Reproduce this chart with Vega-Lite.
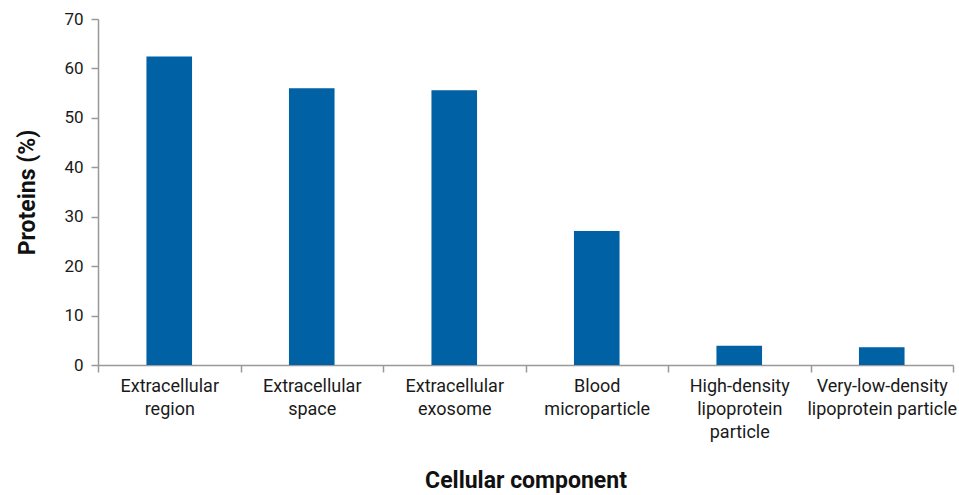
{
  "$schema": "https://vega.github.io/schema/vega-lite/v6.json",
  "autosize": "none",
  "width": 855,
  "height": 346,
  "padding": {"left": 98, "top": 19, "right": 6, "bottom": 130},
  "background": "white",
  "config": {"view": {"stroke": null}, "font": "Roboto"},
  "data": {
    "values": [
      {"component": "Extracellular region", "proteins": 62.4},
      {"component": "Extracellular space", "proteins": 56.0},
      {"component": "Extracellular exosome", "proteins": 55.6},
      {"component": "Blood microparticle", "proteins": 27.1},
      {"component": "High-density lipoprotein particle", "proteins": 3.9},
      {"component": "Very-low-density lipoprotein particle", "proteins": 3.6}
    ]
  },
  "mark": {"type": "bar", "color": "#0061a5", "width": {"band": 0.32}},
  "encoding": {
    "x": {
      "field": "component",
      "type": "nominal",
      "sort": null,
      "scale": {"paddingInner": 0, "paddingOuter": 0},
      "axis": {
        "title": "Cellular component",
        "titleFont": "Roboto",
        "titleFontSize": 23,
        "titleFontWeight": "bold",
        "titleColor": "#111",
        "titlePadding": 28,
        "labelAngle": 0,
        "labelFont": "Roboto",
        "labelFontSize": 18,
        "labelColor": "#1a1a1a",
        "labelLineHeight": 23,
        "labelPadding": 5,
        "labelBaseline": "top",
        "labelExpr": "!isValid(datum.value) ? '' : datum.value == 'Very-low-density lipoprotein particle' ? ['Very-low-density', 'lipoprotein particle'] : split(datum.value, ' ')",
        "tickBand": "extent",
        "tickSize": 7,
        "tickColor": "#999",
        "domainColor": "#999",
        "domainWidth": 1.5,
        "tickWidth": 1.5,
        "grid": false
      }
    },
    "y": {
      "field": "proteins",
      "type": "quantitative",
      "scale": {"domain": [0, 70]},
      "axis": {
        "title": "Proteins (%)",
        "titleFont": "Roboto",
        "titleFontSize": 23,
        "titleFontWeight": "bold",
        "titleColor": "#111",
        "titlePadding": 24,
        "values": [0, 10, 20, 30, 40, 50, 60, 70],
        "labelFont": "Roboto",
        "labelFontSize": 17,
        "labelColor": "#1a1a1a",
        "labelPadding": 8,
        "tickSize": 7,
        "tickColor": "#999",
        "domainColor": "#999",
        "domainWidth": 1.5,
        "tickWidth": 1.5,
        "grid": false
      }
    }
  }
}
